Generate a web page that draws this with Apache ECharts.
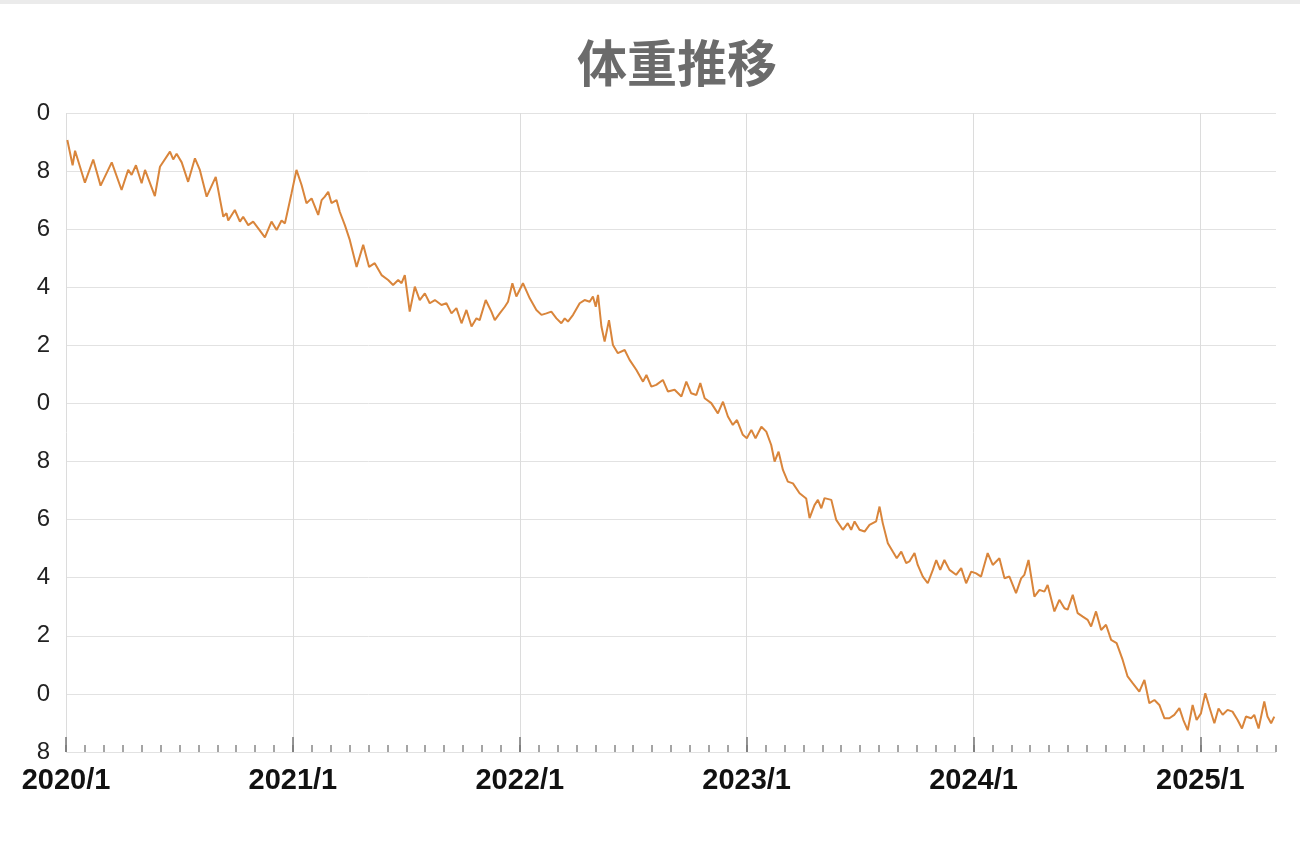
<!DOCTYPE html>
<html>
<head>
<meta charset="utf-8">
<script src="https://cdn.jsdelivr.net/npm/echarts@6/dist/echarts.min.js"></script>
<style>
  html, body { margin: 0; padding: 0; background: #fff; }
  #topbar { position: absolute; left: 0; top: 0; width: 1300px; height: 4px; background: #ebebeb; z-index: 2; }
  #chart { position: absolute; left: 0; top: 0; width: 1300px; height: 847px; }
</style>
</head>
<body>
<div id="topbar"></div>
<div id="chart"></div>
<script>
// x = months since 2020/1, y = weight (kg)
const months = [
  0.07, 0.35, 0.48, 1.00, 1.44, 1.83, 2.42, 2.94, 3.29, 3.47, 3.70, 4.00, 4.18, 4.70, 4.97,
  5.50, 5.67, 5.85, 6.12, 6.46, 6.82, 7.08, 7.44, 7.92, 8.32, 8.49, 8.58, 8.93, 9.20, 9.37,
  9.64, 9.90, 10.17, 10.52, 10.87, 11.14, 11.40, 11.58, 11.93, 12.19, 12.46, 12.72, 12.99,
  13.34, 13.52, 13.69, 13.87, 14.04, 14.31, 14.48, 14.75, 15.01, 15.37, 15.72, 16.03, 16.33,
  16.69, 17.04, 17.30, 17.57, 17.75, 17.92, 18.18, 18.45, 18.71, 18.98, 19.24, 19.51, 19.86,
  20.12, 20.39, 20.65, 20.92, 21.18, 21.45, 21.71, 21.88, 22.20, 22.50, 22.68, 22.94, 23.21,
  23.38, 23.61, 23.82, 24.17, 24.53, 24.88, 25.15, 25.41, 25.67, 25.94, 26.20, 26.38, 26.55,
  26.82, 27.17, 27.43, 27.70, 27.87, 28.02, 28.14, 28.32, 28.49, 28.72, 28.93, 29.19, 29.55,
  29.81, 30.17, 30.52, 30.70, 30.96, 31.22, 31.57, 31.84, 32.19, 32.55, 32.81, 33.07, 33.34,
  33.55, 33.78, 34.13, 34.48, 34.75, 35.01, 35.27, 35.49, 35.80, 36.01, 36.25, 36.47, 36.78,
  37.04, 37.30, 37.48, 37.69, 37.92, 38.18, 38.45, 38.80, 39.15, 39.33, 39.59, 39.77, 39.95,
  40.12, 40.48, 40.74, 41.09, 41.35, 41.53, 41.71, 41.97, 42.24, 42.50, 42.85, 43.03, 43.20,
  43.47, 43.73, 43.94, 44.18, 44.44, 44.61, 44.88, 45.05, 45.32, 45.58, 45.85, 46.03, 46.24,
  46.46, 46.73, 47.08, 47.35, 47.61, 47.88, 48.14, 48.40, 48.75, 49.02, 49.37, 49.64, 49.90,
  50.25, 50.52, 50.69, 50.91, 51.22, 51.49, 51.75, 51.92, 52.28, 52.54, 52.81, 52.98, 53.25,
  53.51, 53.78, 54.04, 54.22, 54.48, 54.75, 55.01, 55.28, 55.57, 55.89, 56.15, 56.42, 56.77,
  57.04, 57.30, 57.57, 57.83, 58.10, 58.36, 58.62, 58.89, 59.10, 59.33, 59.59, 59.80, 60.03,
  60.26, 60.47, 60.74, 60.96, 61.18, 61.44, 61.70, 61.97, 62.20, 62.41, 62.68, 62.85, 63.08,
  63.38, 63.55, 63.74, 63.91
]
const weights = [
  89.07, 88.2, 88.7, 87.6, 88.4, 87.5, 88.3, 87.35, 88.04, 87.87, 88.2, 87.58, 88.04, 87.14, 88.15,
  88.67, 88.4, 88.6, 88.3, 87.63, 88.44, 88.04, 87.12, 87.8, 86.43, 86.55, 86.3, 86.66, 86.26, 86.43,
  86.14, 86.26, 86.03, 85.72, 86.26, 85.97, 86.3, 86.2, 87.24, 88.04, 87.52, 86.89, 87.06,
  86.49, 87.0, 87.12, 87.29, 86.9, 87.0, 86.6, 86.14, 85.63, 84.7, 85.46, 84.7, 84.83,
  84.42, 84.25, 84.08, 84.25, 84.14, 84.42, 83.16, 84.02, 83.56, 83.79, 83.45, 83.56, 83.39,
  83.45, 83.1, 83.28, 82.76, 83.22, 82.65, 82.93, 82.87, 83.56, 83.16, 82.87, 83.1, 83.33,
  83.5, 84.14, 83.68, 84.14, 83.62, 83.22, 83.05, 83.1, 83.16, 82.93, 82.76, 82.93, 82.82,
  83.05, 83.45, 83.56, 83.5, 83.68, 83.33, 83.74, 82.65, 82.13, 82.87, 82.01, 81.73, 81.84,
  81.5, 81.15, 80.75, 80.98, 80.58, 80.64, 80.81, 80.41, 80.47, 80.24, 80.75, 80.35, 80.29,
  80.7, 80.18, 80.01, 79.66, 80.06, 79.55, 79.26, 79.43, 78.92, 78.8, 79.09, 78.8, 79.2,
  79.03, 78.57, 78.0, 78.34, 77.71, 77.31, 77.25, 76.91, 76.73, 76.05, 76.5, 76.68, 76.39,
  76.74, 76.68, 75.99, 75.65, 75.88, 75.65, 75.94, 75.65, 75.59, 75.82, 75.94, 76.45, 75.88,
  75.19, 74.9, 74.67, 74.9, 74.5, 74.56, 74.85, 74.44, 74.04, 73.81, 74.27, 74.61, 74.27,
  74.61, 74.27, 74.1, 74.33, 73.81, 74.21, 74.15, 74.04, 74.85, 74.44, 74.67, 73.98, 74.04,
  73.47, 73.98, 74.1, 74.61, 73.35, 73.58, 73.52, 73.75, 72.84, 73.24, 72.95, 72.9, 73.41,
  72.78, 72.66, 72.55, 72.32, 72.84, 72.2, 72.38, 71.86, 71.75, 71.17, 70.6, 70.37, 70.08,
  70.48, 69.68, 69.79, 69.62, 69.16, 69.16, 69.28, 69.51, 69.1, 68.75, 69.62, 69.1, 69.33,
  70.02, 69.56, 68.99, 69.5, 69.28, 69.45, 69.39, 69.1, 68.81, 69.22, 69.16, 69.28, 68.81,
  69.74, 69.22, 68.99, 69.22
]
const yearTicks = [0, 12, 24, 36, 48, 60]
const monthTicks = []
for (let m = 0; m <= 64; m++) monthTicks.push(m)

const seriesData = months.map((m, i) => [m, weights[i]])

const option = {
  animation: false,
  title: {
    text: '体重推移',
    left: 572,
    top: 33,
    textStyle: {
      fontSize: 50,
      fontWeight: 'bold',
      color: '#6b6b6b',
      fontFamily: 'Noto Sans CJK JP'
    }
  },
  grid: {
    left: 66,
    right: 24,
    top: 113,
    bottom: 95,
    containLabel: false,
    outerBoundsMode: 'none'
  },
  xAxis: [
    {
      // monthly short ticks + year labels
      type: 'value',
      min: 0,
      max: 64,
      interval: 1,
      position: 'bottom',
      axisLine: { show: false },
      axisTick: {
        show: true,
        inside: true,
        length: 7,
        customValues: monthTicks,
        lineStyle: { color: '#888', width: 1.5 }
      },
      splitLine: { show: false },
      axisLabel: {
        customValues: yearTicks,
        margin: 14,
        fontSize: 29,
        fontWeight: 'bold',
        fontFamily: '"Liberation Sans", Arial, sans-serif',
        color: '#111',
        formatter: v => (2020 + v / 12) + '/1'
      }
    },
    {
      // yearly long ticks + vertical grid lines
      type: 'value',
      min: 0,
      max: 64,
      interval: 12,
      position: 'bottom',
      axisLine: { show: false },
      axisTick: {
        show: true,
        inside: true,
        length: 15,
        customValues: yearTicks,
        lineStyle: { color: '#777', width: 1.5 }
      },
      splitLine: { show: true, lineStyle: { color: '#dcdcdc', width: 1 } },
      axisLabel: { show: false }
    }
  ],
  yAxis: {
    type: 'value',
    min: 68,
    max: 90,
    interval: 2,
    axisLine: { show: false },
    axisTick: { show: false },
    splitLine: { lineStyle: { color: '#e2e2e2', width: 1 } },
    axisLabel: {
      margin: 16,
      color: '#222',
      fontFamily: '"Liberation Sans", Arial, sans-serif',
      fontSize: 24,
      // tens digit sits off the left edge, as in the cropped original
      formatter: v => '{hi|' + Math.floor(v / 10) + '}{lo|' + (v % 10) + '}',
      rich: {
        hi: { fontSize: 24, color: '#222', padding: [0, 36, 0, 0] },
        lo: { fontSize: 24, color: '#222' }
      }
    }
  },
  series: [
    {
      name: '体重',
      type: 'line',
      xAxisIndex: 0,
      data: seriesData,
      showSymbol: false,
      color: '#D9853B',
      lineStyle: { width: 2 },
      z: 5
    }
  ]
}

const myChart = echarts.init(document.getElementById('chart'))
myChart.setOption(option)
</script>
</body>
</html>
